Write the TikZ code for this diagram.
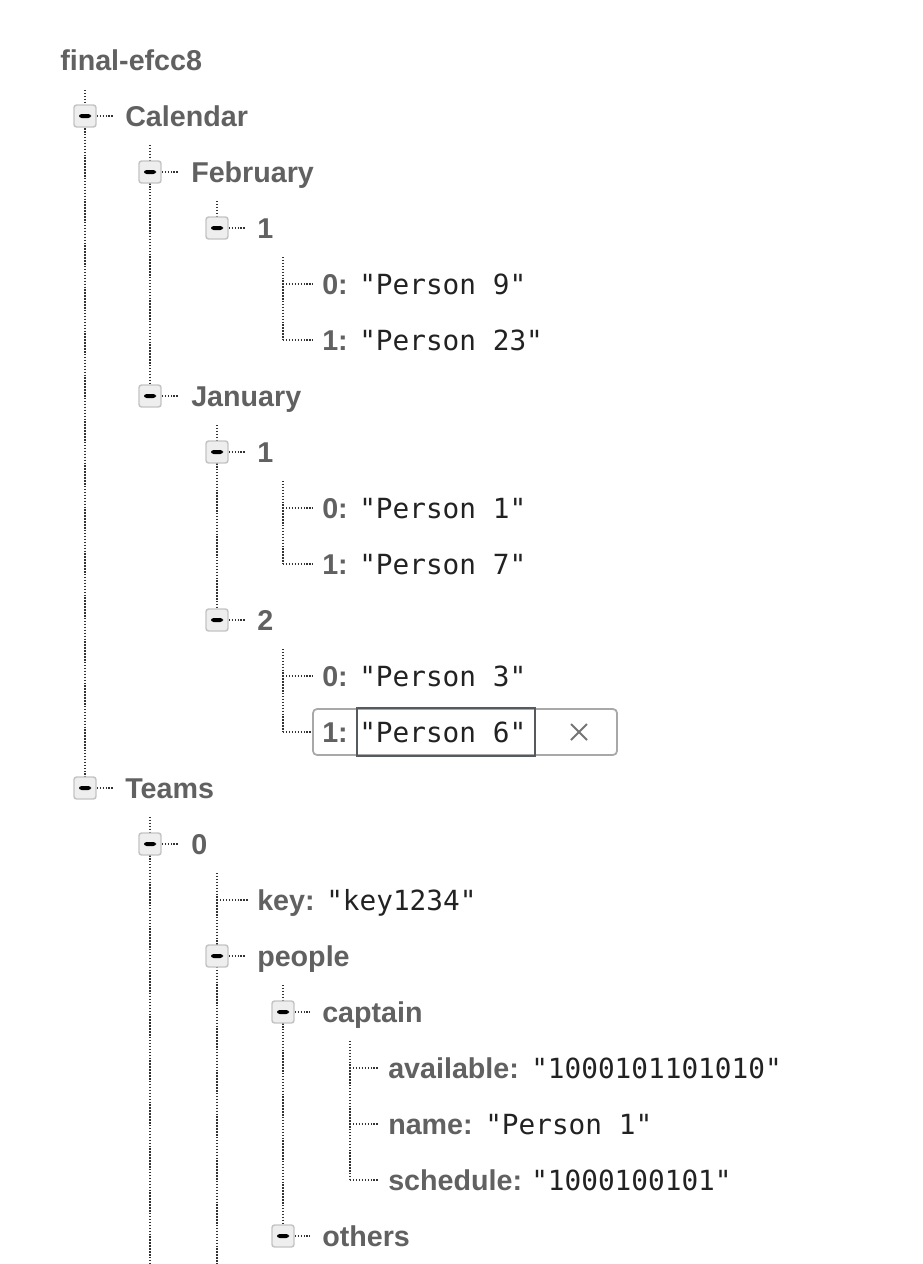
\documentclass[tikz,border=0pt]{standalone}
\usepackage{fontspec}
\setmainfont{Liberation Sans}
\newfontfamily\valfont{DejaVu Sans Mono}
\usetikzlibrary{calc,backgrounds}
\definecolor{keyc}{HTML}{616161}
\definecolor{valc}{HTML}{222222}
\definecolor{linec}{HTML}{333333}
\definecolor{boxfill}{HTML}{EEEEEE}
\definecolor{boxdraw}{HTML}{C4C4C4}
\definecolor{editdraw}{HTML}{A8A8A8}
\definecolor{innerdraw}{HTML}{555A5E}
\definecolor{crossc}{HTML}{757575}
\tikzset{
  keyt/.style={font=\fontsize{21.5}{24}\selectfont\bfseries, text=keyc, inner sep=0pt, anchor=base west},
  valt/.style={font=\valfont\fontsize{20.8}{24}\selectfont, text=valc, inner sep=0pt, anchor=base west},
  tline/.style={draw=linec, line width=1.5pt, dash pattern=on 1.1pt off 1.1pt},
  hconn/.style={tline, shorten >=9pt},
  lconn/.style={tline, shorten >=6.75pt},
  mbox/.style={rectangle, rounded corners=2pt, fill=boxfill, draw=boxdraw, line width=1.1pt,
    minimum size=16.5pt, inner sep=0pt,
    path picture={\fill[black] ($(path picture bounding box.center)+(-6,-2)$) rectangle ($(path picture bounding box.center)+(6,2)$);}},
  outerbox/.style={draw=editdraw, line width=1.3pt, rounded corners=3pt, fill=white},
  innerbox/.style={draw=innerdraw, line width=1.5pt},
  crossline/.style={draw=crossc, line width=1.5pt}
}
\begin{document}
\begin{tikzpicture}[x=0.75pt,y=-0.75pt]
\useasboundingbox (0,0) rectangle (922,1264);
% ---------- nodes ----------
\node[keyt] (rootT) at (60,70.5) {final-efcc8};

\node[mbox] (calB) at (85,116) {};
\node[keyt] (calT) at (125,126.5) {Calendar};

\node[mbox] (febB) at (150,172) {};
\node[keyt] (febT) at (191,182.5) {February};

\node[mbox] (fOneB) at (217,228) {};
\node[keyt] (fOneT) at (257,238.5) {1};

\node[keyt] (fa0K) at (322,294.5) {0:};
\node[valt] (fa0V) at (359,294.5) {"Person 9"};
\node[keyt] (fa1K) at (322,350.5) {1:};
\node[valt] (fa1V) at (359,350.5) {"Person 23"};

\node[mbox] (janB) at (150,396) {};
\node[keyt] (janT) at (191,406.5) {January};

\node[mbox] (jOneB) at (217,452) {};
\node[keyt] (jOneT) at (257,462.5) {1};
\node[keyt] (ja0K) at (322,518.5) {0:};
\node[valt] (ja0V) at (359,518.5) {"Person 1"};
\node[keyt] (ja1K) at (322,574.5) {1:};
\node[valt] (ja1V) at (359,574.5) {"Person 7"};

\node[mbox] (jTwoB) at (217,620) {};
\node[keyt] (jTwoT) at (257,630.5) {2};
\node[keyt] (jb0K) at (322,686.5) {0:};
\node[valt] (jb0V) at (359,686.5) {"Person 3"};

% edit box row
\draw[outerbox] (313,709) rectangle (617,755);
\draw[innerbox] (357,708) rectangle (535,756);
\node[keyt] (jb1K) at (322,742.5) {1:};
\node[valt] (jb1V) at (359,742.5) {"Person 6"};
\coordinate (xc) at (579,732);
\draw[crossline] ($(xc)+(-8,-8)$) -- ($(xc)+(8,8)$);
\draw[crossline] ($(xc)+(-8,8)$) -- ($(xc)+(8,-8)$);

\node[mbox] (teamsB) at (85,788) {};
\node[keyt] (teamsT) at (125,798.5) {Teams};

\node[mbox] (tZeroB) at (150,844) {};
\node[keyt] (tZeroT) at (191,854.5) {0};

\node[keyt] (keyK) at (257,910.5) {key:};
\node[valt] (keyV) at (326,910.5) {"key1234"};

\node[mbox] (peopleB) at (217,956) {};
\node[keyt] (peopleT) at (257,966.5) {people};

\node[mbox] (captB) at (283,1012) {};
\node[keyt] (captT) at (322,1022.5) {captain};

\node[keyt] (avK) at (388,1078.5) {available:};
\node[valt] (avV) at (531,1078.5) {"1000101101010"};
\node[keyt] (nmK) at (388,1134.5) {name:};
\node[valt] (nmV) at (485,1134.5) {"Person 1"};
\node[keyt] (scK) at (388,1190.5) {schedule:};
\node[valt] (scV) at (531,1190.5) {"1000100101"};

\node[mbox] (othersB) at (283,1236) {};
\node[keyt] (othersT) at (322,1246.5) {others};

% ---------- connectors (behind) ----------
\begin{pgfonlayer}{background}
\fill[white] (0,0) rectangle (922,1264);
% vertical trunks
\coordinate (rootTop) at (85,90);
\draw[tline] (rootTop) -- (teamsB.center);
\coordinate (calTop) at (150,145);
\draw[tline] (calTop) -- (janB.center);
\coordinate (febTop) at (217,201);
\draw[tline] (febTop) -- (fOneB.center);
\coordinate (faTop) at (283,257);
\coordinate (fa0J) at (283,284);
\coordinate (fa1J) at (283,340);
\draw[tline] (faTop) -- (fa1J);
\coordinate (janTop) at (217,425);
\draw[tline] (janTop) -- (jTwoB.center);
\coordinate (jaTop) at (283,481);
\coordinate (ja0J) at (283,508);
\coordinate (ja1J) at (283,564);
\draw[tline] (jaTop) -- (ja1J);
\coordinate (jbTop) at (283,649);
\coordinate (jb0J) at (283,676);
\coordinate (jb1J) at (283,732);
\draw[tline] (jbTop) -- (jb1J);
\coordinate (teamsTop) at (150,817);
\coordinate (teamsBot) at (150,1264);
\draw[tline] (teamsTop) -- (teamsBot);
\coordinate (tzTop) at (217,873);
\coordinate (tzBot) at (217,1264);
\coordinate (keyJ) at (217,900);
\draw[tline] (tzTop) -- (tzBot);
\coordinate (pplTop) at (283,985);
\draw[tline] (pplTop) -- (othersB.center);
\coordinate (capTop) at (350,1041);
\coordinate (avJ) at (350,1068);
\coordinate (nmJ) at (350,1124);
\coordinate (scJ) at (350,1180);
\draw[tline] (capTop) -- (scJ);
% horizontal connectors from boxes
\draw[hconn] (calB.center) -- (calB.center -| calT.west);
\draw[hconn] (febB.center) -- (febB.center -| febT.west);
\draw[hconn] (fOneB.center) -- (fOneB.center -| fOneT.west);
\draw[hconn] (janB.center) -- (janB.center -| janT.west);
\draw[hconn] (jOneB.center) -- (jOneB.center -| jOneT.west);
\draw[hconn] (jTwoB.center) -- (jTwoB.center -| jTwoT.west);
\draw[hconn] (teamsB.center) -- (teamsB.center -| teamsT.west);
\draw[hconn] (tZeroB.center) -- (tZeroB.center -| tZeroT.west);
\draw[hconn] (peopleB.center) -- (peopleB.center -| peopleT.west);
\draw[hconn] (captB.center) -- (captB.center -| captT.west);
\draw[hconn] (othersB.center) -- (othersB.center -| othersT.west);
% leaf elbows
\draw[lconn] (fa0J) -- (fa0J -| fa0K.west);
\draw[lconn] (fa1J) -- (fa1J -| fa1K.west);
\draw[lconn] (ja0J) -- (ja0J -| ja0K.west);
\draw[lconn] (ja1J) -- (ja1J -| ja1K.west);
\draw[lconn] (jb0J) -- (jb0J -| jb0K.west);
\draw[lconn] (jb1J) -- (jb1J -| jb1K.west);
\draw[lconn] (keyJ) -- (keyJ -| keyK.west);
\draw[lconn] (avJ) -- (avJ -| avK.west);
\draw[lconn] (nmJ) -- (nmJ -| nmK.west);
\draw[lconn] (scJ) -- (scJ -| scK.west);
\end{pgfonlayer}
\end{tikzpicture}
\end{document}
